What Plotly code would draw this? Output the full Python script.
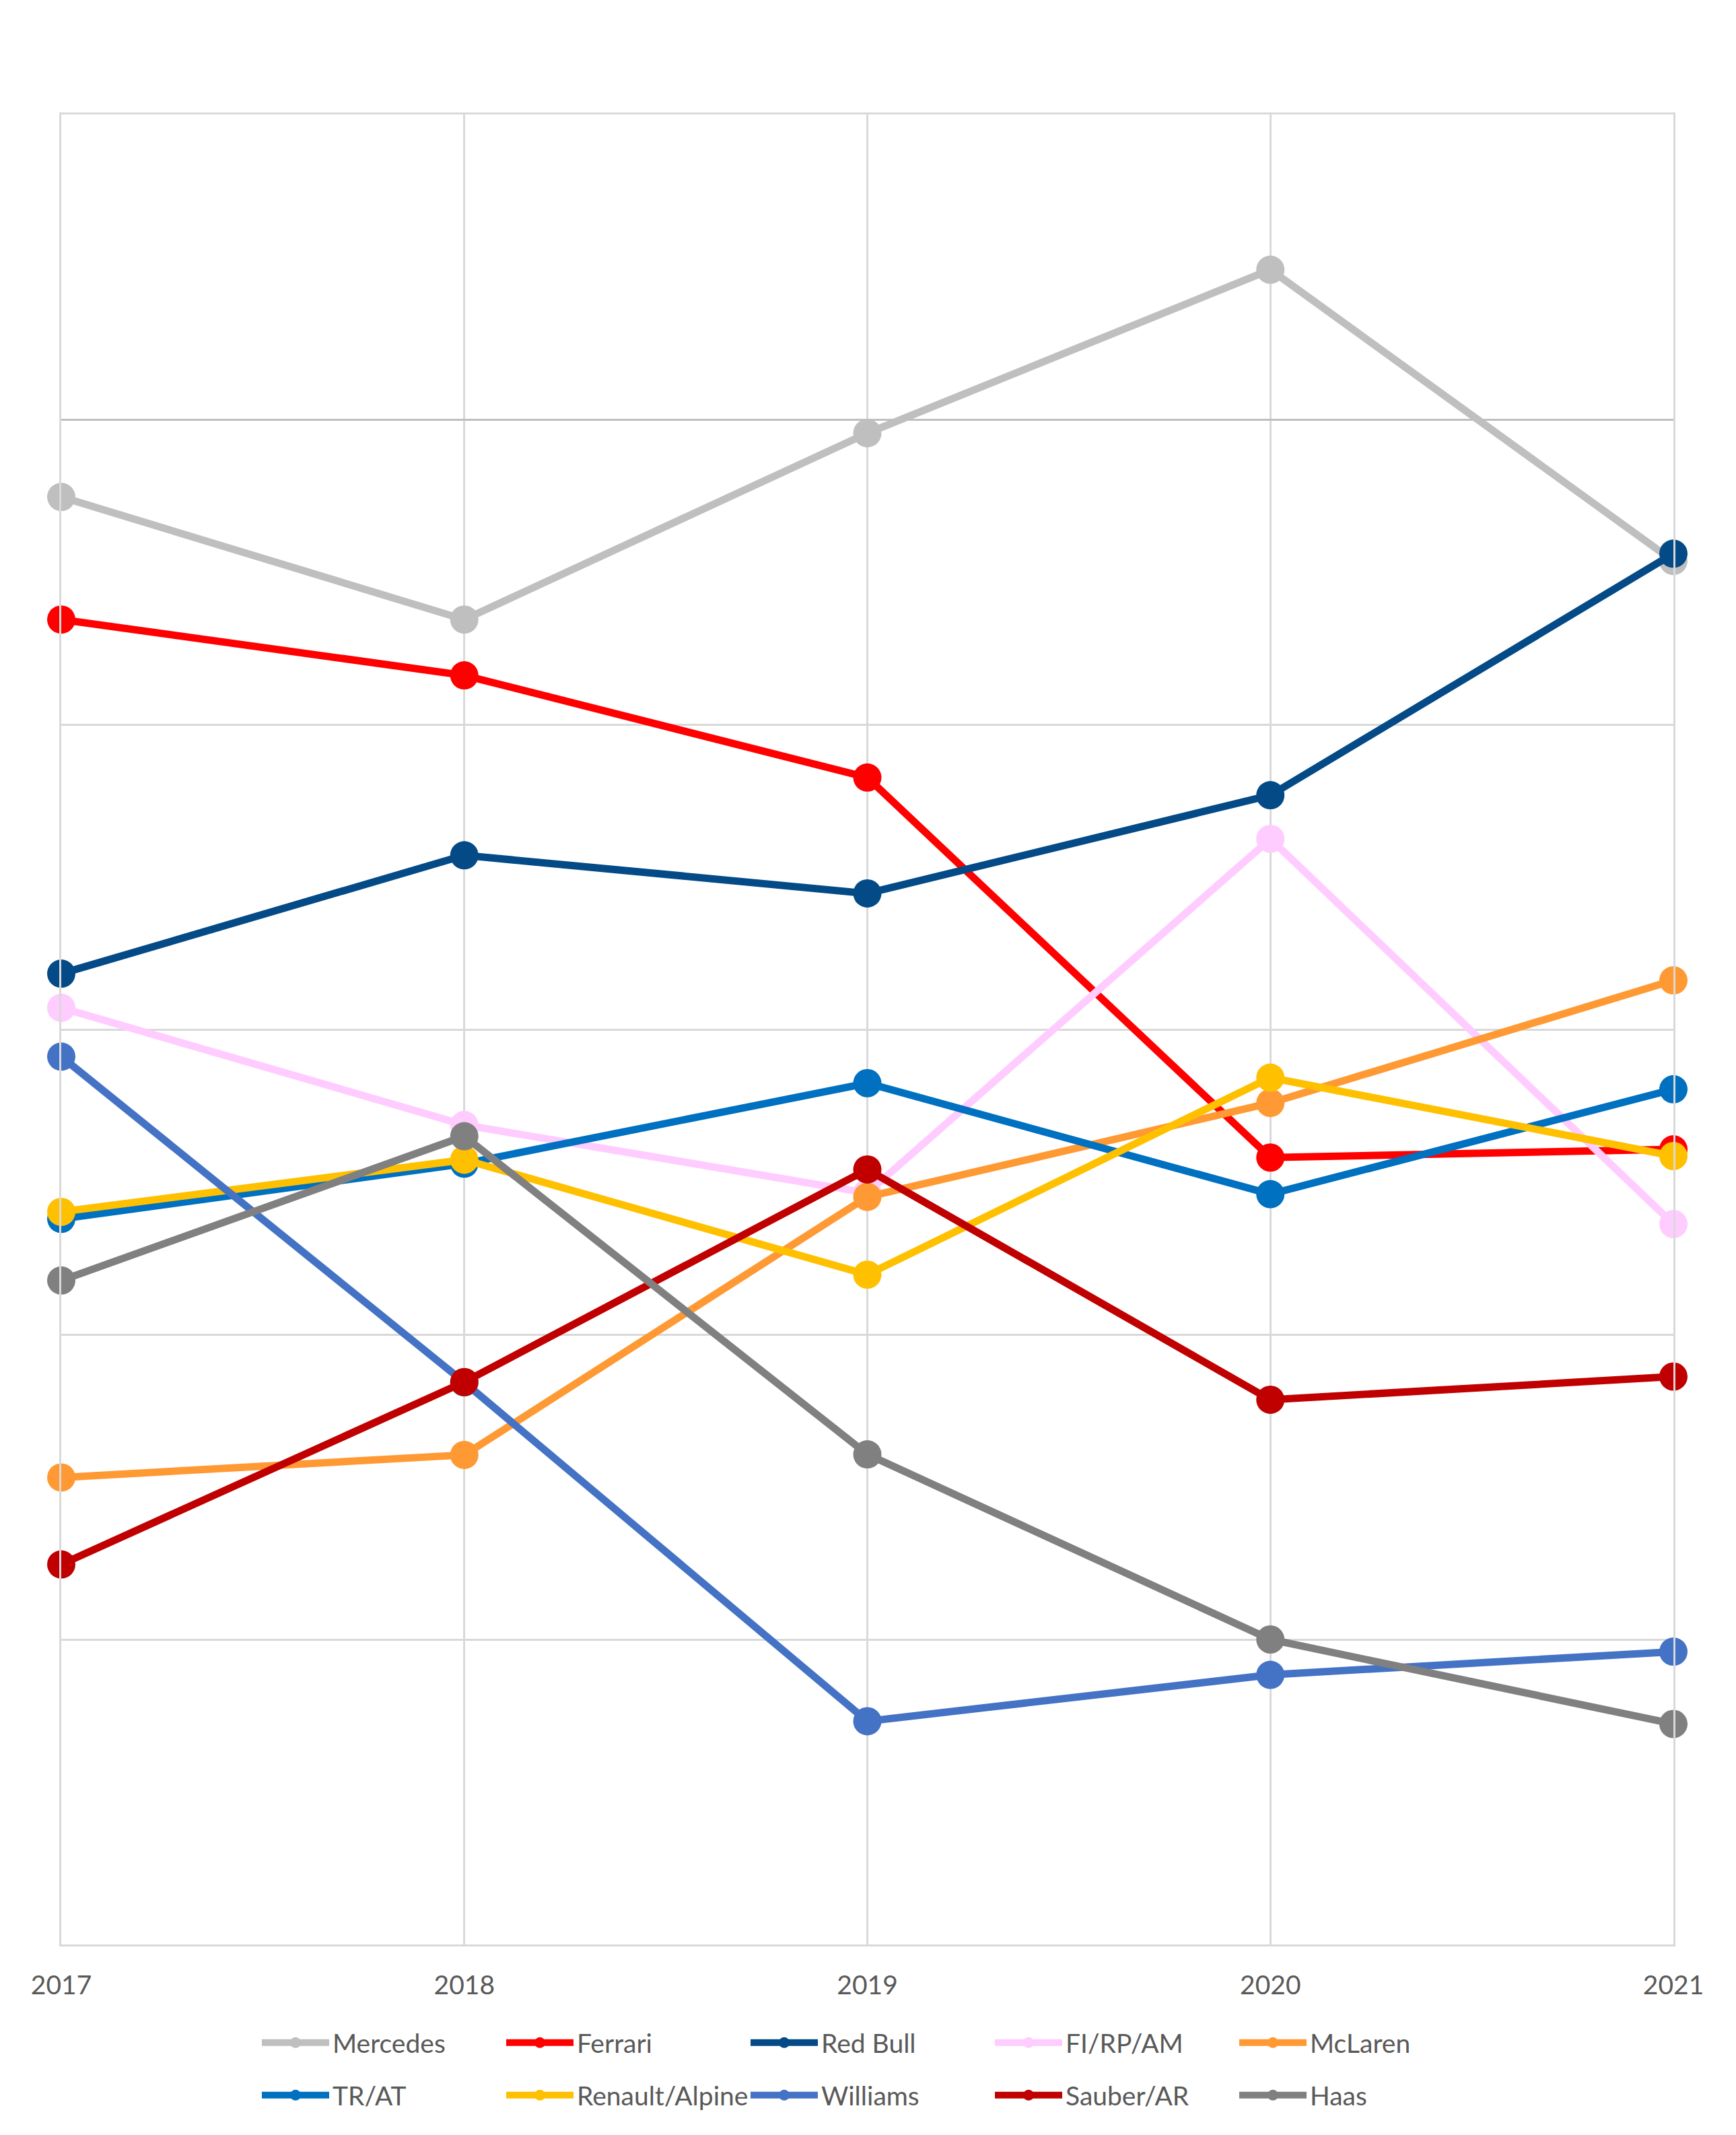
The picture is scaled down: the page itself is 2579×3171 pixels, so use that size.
import plotly.graph_objects as go

years = [2017, 2018, 2019, 2020, 2021]
year_labels = ["2017", "2018", "2019", "2020", "2021"]

mercedes = [-0.254, -0.656, -0.045, 0.491, -0.464]
ferrari = [-0.656, -0.839, -1.174, -2.420, -2.393]
red_bull = [-1.817, -1.429, -1.554, -1.232, -0.440]
fi_rp_am = [-1.929, -2.313, -2.536, -1.375, -2.638]
mclaren = [-3.469, -3.395, -2.549, -2.241, -1.839]
tr_at = [-2.621, -2.440, -2.176, -2.540, -2.196]
renault_alpine = [-2.598, -2.427, -2.804, -2.158, -2.415]
williams = [-2.089, -3.157, -4.268, -4.116, -4.040]
sauber_ar = [-3.754, -3.156, -2.459, -3.214, -3.138]
haas = [-2.823, -2.350, -3.393, -4.000, -4.277]

series = [
    ("Mercedes", mercedes, "#BFBFBF", "legend"),
    ("Ferrari", ferrari, "#FF0000", "legend"),
    ("Red Bull", red_bull, "#034A87", "legend"),
    ("FI/RP/AM", fi_rp_am, "#FFCCFF", "legend"),
    ("McLaren", mclaren, "#FF9933", "legend"),
    ("TR/AT", tr_at, "#0070C0", "legend2"),
    ("Renault/Alpine", renault_alpine, "#FFC000", "legend2"),
    ("Williams", williams, "#4472C4", "legend2"),
    ("Sauber/AR", sauber_ar, "#C00000", "legend2"),
    ("Haas", haas, "#808080", "legend2"),
]

W, H = 2579, 3171
OFF = 8  # default page body margin
L, R, T, B = 91, 2486, 170, 2888

fig = go.Figure()
for name, vals, col, lg in series:
    fig.add_trace(go.Scatter(
        x=years, y=vals, name=name, mode="lines+markers",
        line=dict(color=col, width=11),
        marker=dict(color=col, size=42),
        cliponaxis=False, legend=lg,
    ))

font_fam = "Lato, 'Open Sans', sans-serif"
legend_common = dict(
    orientation="h", xref="container", yref="container",
    xanchor="left", yanchor="middle",
    font=dict(family=font_fam, size=39, color="#595959"),
    entrywidth=248, entrywidthmode="pixels",
    itemwidth=100, bgcolor="rgba(0,0,0,0)", tracegroupgap=0,
)

fig.update_layout(
    width=W, height=H,
    margin=dict(l=L - OFF, r=W + OFF - R, t=T - OFF, b=H + OFF - B, pad=0),
    paper_bgcolor="white", plot_bgcolor="white",
    showlegend=True,
    legend=dict(x=376 / W, y=1 - (3034 - OFF) / H, **legend_common),
    legend2=dict(x=376 / W, y=1 - (3112 - OFF) / H, **legend_common),
    xaxis=dict(
        range=[2017, 2021], tickvals=years, ticktext=year_labels,
        showgrid=True, gridcolor="#D9D9D9", gridwidth=3,
        showline=True, mirror=True, linecolor="#D9D9D9", linewidth=3,
        zeroline=False, ticks="", ticklabelstandoff=24,
        tickfont=dict(family=font_fam, size=39, color="#595959"),
    ),
    yaxis=dict(
        range=[-5, 1], dtick=1, tick0=0,
        showgrid=True, gridcolor="#D9D9D9", gridwidth=3,
        showline=True, mirror=True, linecolor="#D9D9D9", linewidth=3,
        zeroline=True, zerolinecolor="#BFBFBF", zerolinewidth=3,
        showticklabels=False, ticks="",
    ),
)

fig.write_html("out.html")
